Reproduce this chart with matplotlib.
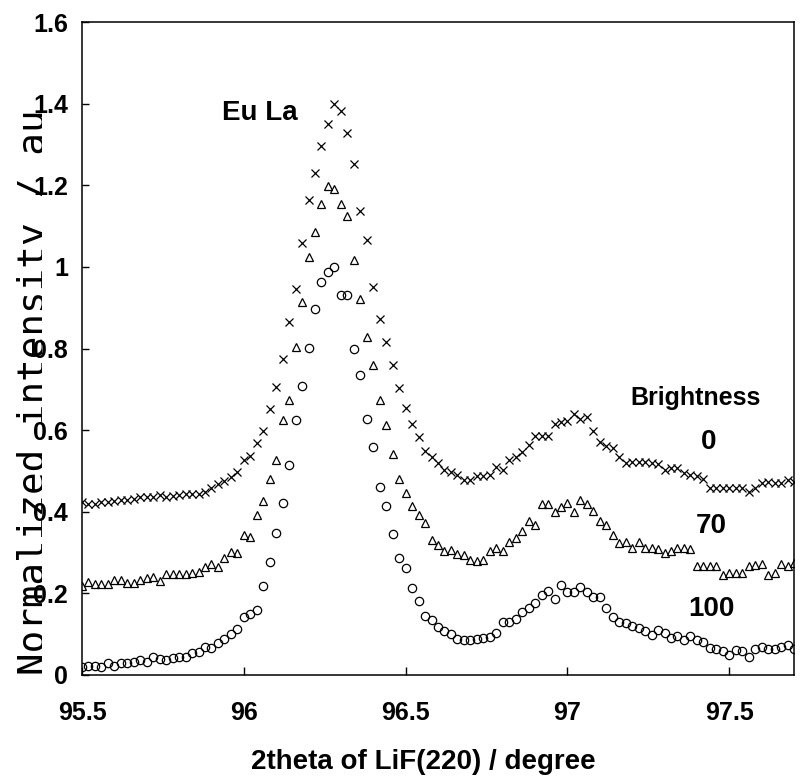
import numpy as np
import matplotlib
matplotlib.use("Agg")
import matplotlib.pyplot as plt
from matplotlib.transforms import Bbox, TransformedBbox

# 2theta scan, 0.02 degree steps from 95.50 to 97.70
two_theta = np.round(np.arange(111) * 0.02 + 95.5, 2)

# brightness 0 (crosses)
b0 = [0.424, 0.420, 0.419, 0.423, 0.424, 0.427, 0.428, 0.430, 0.432, 0.435,
      0.435, 0.437, 0.442, 0.437, 0.439, 0.441, 0.443, 0.443, 0.443, 0.449,
      0.459, 0.469, 0.476, 0.484, 0.498, 0.526, 0.536, 0.568, 0.599, 0.652,
      0.706, 0.774, 0.865, 0.947, 1.058, 1.163, 1.230, 1.297, 1.350, 1.399,
      1.383, 1.328, 1.251, 1.138, 1.065, 0.951, 0.873, 0.816, 0.759, 0.703,
      0.655, 0.614, 0.584, 0.550, 0.535, 0.520, 0.503, 0.498, 0.490, 0.479,
      0.479, 0.487, 0.487, 0.490, 0.510, 0.502, 0.526, 0.533, 0.547, 0.563,
      0.585, 0.585, 0.585, 0.614, 0.620, 0.623, 0.639, 0.628, 0.631, 0.598,
      0.571, 0.561, 0.555, 0.533, 0.520, 0.522, 0.522, 0.523, 0.520, 0.517,
      0.502, 0.506, 0.506, 0.494, 0.490, 0.487, 0.481, 0.459, 0.459, 0.457,
      0.457, 0.459, 0.457, 0.449, 0.459, 0.471, 0.473, 0.471, 0.471, 0.479,
      0.473]

# brightness 70 (triangles)
b70 = [0.218, 0.228, 0.224, 0.223, 0.224, 0.233, 0.233, 0.226, 0.226, 0.233,
       0.237, 0.239, 0.231, 0.247, 0.247, 0.247, 0.247, 0.250, 0.253, 0.264,
       0.272, 0.264, 0.286, 0.302, 0.298, 0.343, 0.339, 0.393, 0.427, 0.481,
       0.528, 0.624, 0.673, 0.804, 0.914, 1.024, 1.085, 1.155, 1.199, 1.191,
       1.155, 1.124, 1.016, 0.922, 0.827, 0.759, 0.673, 0.612, 0.542, 0.480,
       0.446, 0.413, 0.391, 0.373, 0.330, 0.318, 0.304, 0.306, 0.296, 0.294,
       0.283, 0.280, 0.283, 0.304, 0.310, 0.304, 0.326, 0.335, 0.353, 0.378,
       0.367, 0.419, 0.419, 0.400, 0.411, 0.422, 0.400, 0.430, 0.419, 0.402,
       0.378, 0.367, 0.343, 0.324, 0.326, 0.310, 0.326, 0.312, 0.310, 0.308,
       0.299, 0.305, 0.312, 0.310, 0.308, 0.267, 0.267, 0.267, 0.267, 0.245,
       0.250, 0.250, 0.250, 0.267, 0.269, 0.273, 0.245, 0.250, 0.273, 0.267,
       0.274]

# brightness 100 (circles)
b100 = [0.020, 0.021, 0.021, 0.020, 0.030, 0.021, 0.029, 0.030, 0.033, 0.037,
        0.033, 0.045, 0.039, 0.037, 0.041, 0.043, 0.043, 0.055, 0.057, 0.069,
        0.065, 0.078, 0.087, 0.100, 0.112, 0.141, 0.149, 0.159, 0.218, 0.277,
        0.348, 0.422, 0.514, 0.624, 0.708, 0.802, 0.898, 0.963, 0.987, 1.000,
        0.932, 0.932, 0.800, 0.734, 0.628, 0.559, 0.461, 0.414, 0.345, 0.286,
        0.261, 0.212, 0.181, 0.144, 0.135, 0.117, 0.109, 0.100, 0.087, 0.086,
        0.086, 0.087, 0.090, 0.092, 0.102, 0.131, 0.131, 0.136, 0.155, 0.163,
        0.177, 0.196, 0.206, 0.185, 0.220, 0.204, 0.204, 0.216, 0.204, 0.192,
        0.192, 0.163, 0.143, 0.131, 0.128, 0.120, 0.114, 0.107, 0.098, 0.110,
        0.102, 0.090, 0.095, 0.086, 0.095, 0.086, 0.082, 0.065, 0.063, 0.060,
        0.049, 0.061, 0.060, 0.045, 0.063, 0.068, 0.063, 0.063, 0.068, 0.073,
        0.063]

x_ticks = [95.5, 96, 96.5, 97, 97.5]
x_ticklabels = ["95.5", "96", "96.5", "97", "97.5"]
y_ticks = [0, 0.2, 0.4, 0.6, 0.8, 1, 1.2, 1.4, 1.6]
y_ticklabels = ["0", "0.2", "0.4", "0.6", "0.8", "1", "1.2", "1.4", "1.6"]

SANS = ["Liberation Sans", "DejaVu Sans"]

fig = plt.figure(figsize=(8.04, 7.84), dpi=100)
ax = fig.add_axes([82 / 804, 109 / 784, 712 / 804, 653 / 784])

ax.plot(two_theta, b0, marker="x", linestyle="none", color="black",
        markersize=6, markeredgewidth=0.9)
ax.plot(two_theta, b70, marker="^", linestyle="none", color="black",
        fillstyle="none", markersize=5.5, markeredgewidth=0.9)
ax.plot(two_theta, b100, marker="o", linestyle="none", color="black",
        fillstyle="none", markersize=6, markeredgewidth=0.9)

ax.set_xlim(95.5, 97.7)
ax.set_ylim(0, 1.6)
ax.set_xticks(x_ticks)
ax.set_xticklabels(x_ticklabels, family=SANS, fontweight="bold", fontsize=18)
ax.set_yticks(y_ticks)
ax.set_yticklabels(y_ticklabels, family=SANS, fontweight="bold", fontsize=18)
ax.tick_params(axis="x", direction="in", length=6, width=1, pad=19)
ax.tick_params(axis="y", direction="in", length=5, width=1, pad=10)
for sp in ax.spines.values():
    sp.set_linewidth(1.1)

ax.set_xlabel("2theta of LiF(220) / degree", family=SANS,
              fontweight="bold", fontsize=20)
ax.xaxis.label.set_va("center")
ax.xaxis.set_label_coords(0.48, -0.133)

# y label sits half under the tick labels in the original, so clip it
ylab = fig.text(45 / 804, 392 / 784, "Normalized intensity / au",
                rotation=90, rotation_mode="anchor", ha="center",
                va="baseline", fontsize=27, family="DejaVu Sans Mono")
ylab.set_clip_on(True)
ylab.set_clip_box(TransformedBbox(Bbox.from_extents(0, 0, 42 / 804, 1),
                                  fig.transFigure))

note = dict(family=SANS, fontweight="bold", ha="center", va="baseline")
ax.text(96.05, 1.36, "Eu La", fontsize=20, **note)
ax.text(97.395, 0.661, "Brightness", fontsize=18, **note)
ax.text(97.435, 0.553, "0", fontsize=20, **note)
ax.text(97.445, 0.348, "70", fontsize=20, **note)
ax.text(97.445, 0.144, "100", fontsize=20, **note)

fig.savefig("out.png", dpi=100)
